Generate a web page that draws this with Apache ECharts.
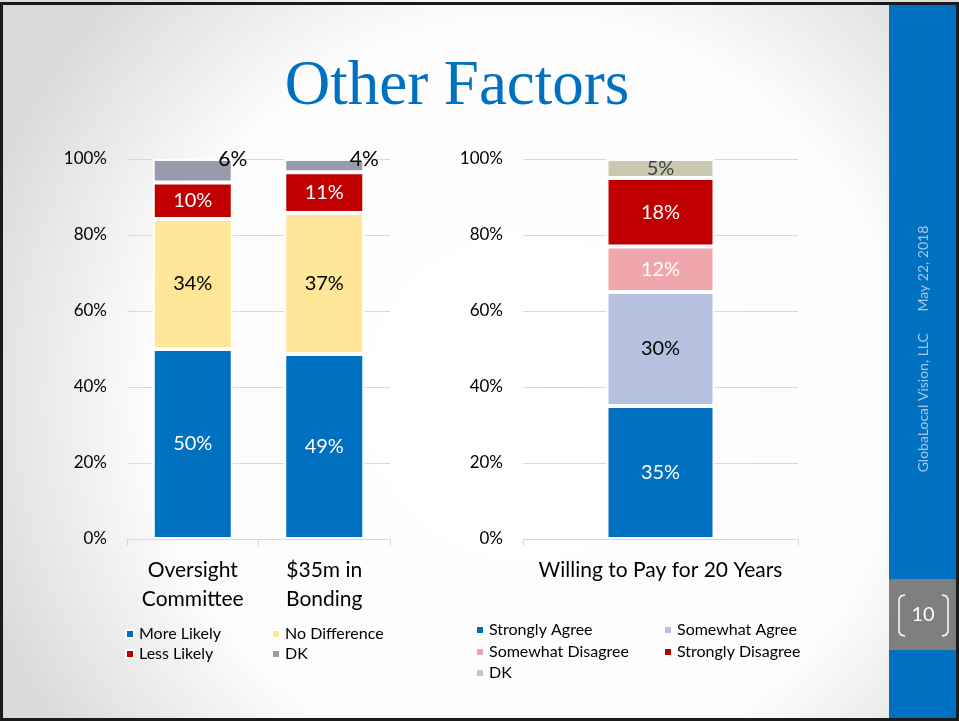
<!DOCTYPE html>
<html>
<head>
<meta charset="utf-8">
<title>Other Factors</title>
<script src="https://cdn.jsdelivr.net/npm/echarts@6/dist/echarts.min.js"></script>
<style>
  html, body { margin: 0; padding: 0; background: #fff; }
  #chart { width: 959px; height: 721px; }
</style>
</head>
<body>
<div id="chart"></div>
<script>
// left chart: likelihood
const leftCategories = ['Oversight\nCommittee', '$35m in\nBonding'];
const leftNames = ['More Likely', 'No Difference', 'Less Likely', 'DK'];
const leftValues = [
  [50, 48.7],
  [34.2, 37.1],
  [9.6, 10.7],
  [6.2, 3.5]
];
const leftColors = ['#0070C0', '#FFE699', '#C00000', '#9A9AAE'];
const leftLabelColors = ['#fff', '#000', '#fff', '#000'];

// right chart: willingness to pay
const rightCategories = ['Willing to Pay for 20 Years'];
const rightNames = ['Strongly Agree', 'Somewhat Agree', 'Somewhat Disagree', 'Strongly Disagree', 'DK'];
const rightValues = [[35], [30], [12], [18], [5]];
const rightColors = ['#0070C0', '#B4C2E0', '#EFA7AB', '#C00000', '#C9C9B1'];
const rightLabelColors = ['#fff', '#000', '#fff', '#fff', '#404040'];

const yTicks = [0, 20, 40, 60, 80, 100];

const font = 'Lato, "Open Sans", sans-serif';
const gridLine = '#D9D9D9';

let chart = echarts.init(document.getElementById('chart'));

function yAxisFor(idx) {
  return {
    gridIndex: idx,
    type: 'value',
    min: yTicks[0],
    max: yTicks[yTicks.length - 1],
    interval: 20,
    axisLine: { show: false },
    axisTick: { show: false },
    splitLine: { lineStyle: { color: gridLine, width: 1 } },
    axisLabel: {
      formatter: '{value}%',
      margin: 20,
      color: '#000',
      fontSize: 17,
      fontFamily: font
    }
  };
}

function xAxisFor(idx, cats) {
  return {
    gridIndex: idx,
    type: 'category',
    data: cats,
    axisLine: { lineStyle: { color: gridLine, width: 1 } },
    axisTick: { show: true, length: 7, lineStyle: { color: gridLine } },
    axisLabel: {
      interval: 0,
      margin: 17,
      color: '#000',
      fontSize: 21,
      lineHeight: 29,
      fontFamily: font
    }
  };
}

const series = [];
leftNames.forEach((name, i) => {
  const isDK = i === leftNames.length - 1;
  series.push({
    name: name,
    type: 'bar',
    stack: 'left',
    xAxisIndex: 0,
    yAxisIndex: 0,
    barWidth: 80,
    data: leftValues[i],
    itemStyle: { color: leftColors[i], borderColor: '#fff', borderWidth: 2 },
    label: {
      show: true,
      position: isDK ? ['100%', 0] : 'inside',
      align: 'center',
      verticalAlign: 'middle',
      formatter: p => Math.round(p.value) + '%',
      color: leftLabelColors[i],
      fontSize: isDK ? 21 : 20,
      fontFamily: font
    }
  });
});
rightNames.forEach((name, i) => {
  series.push({
    name: name,
    type: 'bar',
    stack: 'right',
    xAxisIndex: 1,
    yAxisIndex: 1,
    barWidth: 108,
    data: rightValues[i],
    itemStyle: { color: rightColors[i], borderColor: '#fff', borderWidth: 2 },
    label: {
      show: true,
      position: 'inside',
      formatter: p => Math.round(p.value) + '%',
      color: rightLabelColors[i],
      fontSize: 20,
      fontFamily: font
    }
  });
});

// one legend box per item so the two-column layout lines up
const leftLegendPos = [[125, 626], [271, 626], [125, 646], [271, 646]];
const rightLegendPos = [[475, 622], [663, 622], [475, 644], [663, 644], [475, 665]];
const legends = [];
leftNames.forEach((name, i) => {
  legends.push({
    data: [{ name: name, itemStyle: { color: leftColors[i] } }],
    left: leftLegendPos[i][0], top: leftLegendPos[i][1]
  });
});
rightNames.forEach((name, i) => {
  legends.push({
    data: [{ name: name, itemStyle: { color: rightColors[i] } }],
    left: rightLegendPos[i][0], top: rightLegendPos[i][1]
  });
});
legends.forEach(l => {
  l.padding = 0;
  l.itemWidth = 8;
  l.itemHeight = 8;
  l.icon = 'rect';
  l.selectedMode = false;
  l.textStyle = { color: '#000', fontSize: 16, fontFamily: font };
});

const option = {
  animation: false,
  title: {
    text: 'Other Factors',
    left: 452,
    top: 51,
    textAlign: 'center',
    textStyle: {
      color: '#0070C0',
      fontSize: 63,
      fontWeight: 'normal',
      fontFamily: '"Liberation Serif", "DejaVu Serif", serif'
    }
  },
  grid: [
    { left: 127, top: 159, width: 263, height: 380 },
    { left: 523, top: 159, width: 275, height: 380 }
  ],
  xAxis: [xAxisFor(0, leftCategories), xAxisFor(1, rightCategories)],
  yAxis: [yAxisFor(0), yAxisFor(1)],
  legend: legends,
  series: series,
  graphic: [
    {
      type: 'rect', z: -100, silent: true,
      shape: { x: 0, y: 0, width: 959, height: 721 },
      style: {
        fill: new echarts.graphic.RadialGradient(0.55, 0.55, 0.8, [
          { offset: 0, color: '#ffffff' },
          { offset: 0.65, color: '#fdfdfd' },
          { offset: 1, color: '#dadada' }
        ])
      }
    },
    {
      type: 'rect', z: -50, silent: true,
      shape: { x: 889, y: 3, width: 70, height: 717 },
      style: { fill: '#0070C0' }
    },
    {
      type: 'rect', z: -40, silent: true,
      shape: { x: 889, y: 579, width: 68, height: 71 },
      style: { fill: '#7F7F7F' }
    },
    {
      type: 'text', z: 10, silent: true,
      x: 923, y: 615,
      style: {
        text: '10', fill: '#fff', fontSize: 20, fontFamily: font,
        align: 'center', verticalAlign: 'middle'
      }
    },
    {
      type: 'polyline', z: 10, silent: true,
      shape: { points: [[905, 595], [901, 596], [899, 599], [899, 632], [901, 635], [905, 636]] },
      style: { stroke: '#fff', lineWidth: 1.5, fill: null }
    },
    {
      type: 'polyline', z: 10, silent: true,
      shape: { points: [[942, 595], [946, 596], [948, 599], [948, 632], [946, 635], [942, 636]] },
      style: { stroke: '#fff', lineWidth: 1.5, fill: null }
    },
    {
      type: 'text', z: 10, silent: true,
      x: 923, y: 349, rotation: Math.PI / 2,
      style: {
        text: 'GlobaLocal Vision, LLC      May 22, 2018',
        fill: '#A9C6E4', fontSize: 14, fontFamily: font,
        align: 'center', verticalAlign: 'middle'
      }
    },
    {
      type: 'rect', z: 20, silent: true,
      shape: { x: 1.5, y: 3.5, width: 956, height: 716 },
      style: { fill: null, stroke: '#1a1a1a', lineWidth: 3 }
    }
  ]
};

chart.setOption(option);
window.addEventListener('resize', () => {
  chart.resize();
});
</script>
</body>
</html>
